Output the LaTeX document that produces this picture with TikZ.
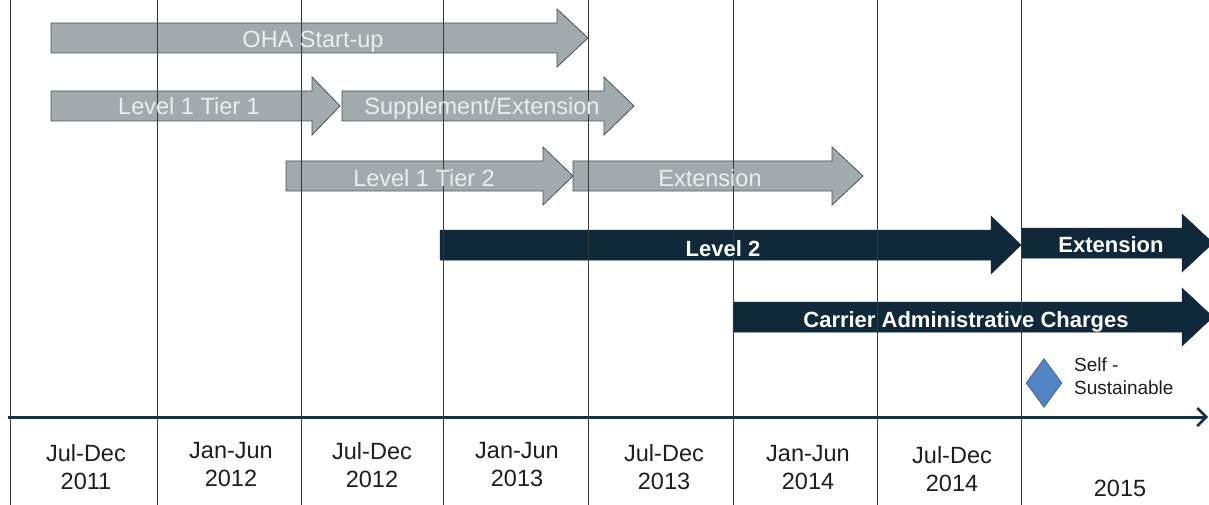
\documentclass[tikz,border=0pt]{standalone}
\usepackage{fontspec}
\setmainfont{Liberation Sans}
\usetikzlibrary{arrows.meta,shapes.geometric}
\definecolor{grayfill}{RGB}{163,170,174}
\definecolor{grayedge}{RGB}{75,80,85}
\definecolor{navy}{RGB}{15,41,58}
\definecolor{gridc}{RGB}{55,55,55}
\definecolor{diafill}{RGB}{82,132,196}
\definecolor{diaedge}{RGB}{55,95,150}
\definecolor{labc}{RGB}{30,30,30}
\definecolor{axisc}{RGB}{22,50,66}
\newcommand{\tlshape}[5]{%
  \path[#1] (#2,#5-15) -- (#3,#5-15) -- (#3,#5-29) -- (#4,#5) -- (#3,#5+29) -- (#3,#5+15) -- (#2,#5+15) -- cycle;}
\tikzset{
  grayarrow/.style={fill=grayfill, draw=grayedge, line width=0.8pt},
  navyarrow/.style={fill=navy, draw=navy, line width=0.5pt},
  graytext/.style={text=white!93!black, font=\fontsize{23.5}{26}\selectfont, inner sep=0pt, anchor=base},
  navytext/.style={text=white, font=\bfseries\fontsize{22}{24}\selectfont, inner sep=0pt, anchor=base},
  gridline/.style={draw=gridc, line width=1pt},
  datelabel/.style={text=labc, align=center, font=\fontsize{23.5}{28}\selectfont, inner sep=0pt},
  milestone/.style={diamond, fill=diafill, draw=diaedge, line width=0.6pt, minimum width=36pt, minimum height=49pt, inner sep=0pt},
  notetext/.style={text=labc, align=left, font=\fontsize{19}{23}\selectfont, inner sep=0pt},
  axisline/.style={draw=axisc, line width=3pt, -{Straight Barb[length=9pt,width=18pt,line width=2.5pt]}}
}
\begin{document}
\begin{tikzpicture}[x=1pt,y=-1pt]
\useasboundingbox (0,0) rectangle (1209,505);
\fill[white] (0,0) rectangle (1209,505);
% arrow bodies
\tlshape{grayarrow}{51}{557}{588}{38}
\tlshape{grayarrow}{51}{312}{340}{106}
\tlshape{grayarrow}{342}{604}{634}{106}
\tlshape{grayarrow}{286}{543}{573}{176}
\tlshape{grayarrow}{573}{832}{863}{176}
\tlshape{navyarrow}{440}{991}{1021}{245}
\tlshape{navyarrow}{1022}{1182}{1213}{243}
\tlshape{navyarrow}{733}{1182}{1213}{317}
% grid lines
\foreach \gx/\gn in {10/g0,157/g1,301/g2,443/g3,588/g4,733/g5,877/g6,1021/g7}{
  \coordinate (\gn t) at (\gx,0);
  \coordinate (\gn b) at (\gx,505);
  \path[gridline] (\gn t) -- (\gn b);
}
% axis
\coordinate (axl) at (8,417);
\coordinate (axr) at (1208,417);
\path[axisline] (axl) -- (axr);
% arrow texts
\node[graytext] (oha) at (313,47.5) {OHA Start-up};
\node[graytext] (l1t1) at (189,115) {Level 1 Tier 1};
\node[graytext] (supp) at (482,115) {Supplement/Extension};
\node[graytext] (l1t2) at (424,186.5) {Level 1 Tier 2};
\node[graytext] (extg) at (710,186) {Extension};
\node[navytext] (lev2) at (723,256.5) {Level 2};
\node[navytext] (extn) at (1111,252) {Extension};
\node[navytext] (cac) at (966,327) {Carrier Administrative Charges};
% milestone
\node[milestone] (ss) at (1044,383) {};
\node[notetext, anchor=north west] (sstext) at (1074,358) {Self -\\Sustainable};
% date labels
\node[datelabel] (d1) at (86,467.5) {Jul-Dec\\2011};
\node[datelabel] (d2) at (231,465) {Jan-Jun\\2012};
\node[datelabel] (d3) at (372,465) {Jul-Dec\\2012};
\node[datelabel] (d4) at (517,465) {Jan-Jun\\2013};
\node[datelabel] (d5) at (664,467.5) {Jul-Dec\\2013};
\node[datelabel] (d6) at (808,467.5) {Jan-Jun\\2014};
\node[datelabel] (d7) at (952,469.5) {Jul-Dec\\2014};
\node[datelabel] (d8) at (1120,488) {2015};
\end{tikzpicture}
\end{document}
